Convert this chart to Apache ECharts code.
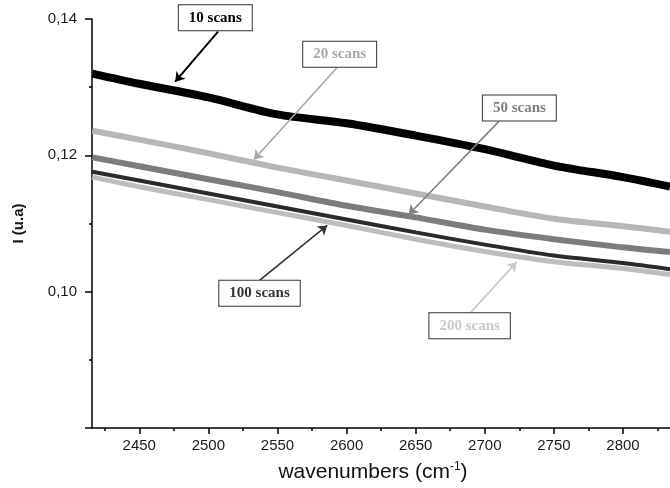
<!DOCTYPE html>
<html>
<head>
<meta charset="utf-8">
<script src="https://cdn.jsdelivr.net/npm/echarts@6/dist/echarts.min.js"></script>
<style>
  html,body{margin:0;padding:0;background:#fff;}
  #main{width:670px;height:488px;}
</style>
</head>
<body>
<div id="main"></div>
<script>
var wavenumbers = [2416, 2450, 2500, 2550, 2600, 2650, 2700, 2750, 2800, 2834];
var scans10  = [0.1320, 0.1305, 0.1285, 0.1260, 0.1247, 0.1229, 0.1209, 0.1185, 0.1168, 0.1154];
var scans20  = [0.1236, 0.1223, 0.1203, 0.1182, 0.1163, 0.1144, 0.1125, 0.1107, 0.1096, 0.1088];
var scans50  = [0.1197, 0.1184, 0.1165, 0.1146, 0.1126, 0.1109, 0.1091, 0.1077, 0.1065, 0.1058];
var scans100 = [0.1176, 0.1163, 0.1144, 0.1125, 0.1106, 0.1087, 0.1069, 0.1053, 0.1042, 0.1033];
var scans200 = [0.1168, 0.1154, 0.1135, 0.1116, 0.1097, 0.1077, 0.1059, 0.1044, 0.1034, 0.1025];

var xLabels = [2450, 2500, 2550, 2600, 2650, 2700, 2750, 2800];
var xMinor  = [2425, 2475, 2525, 2575, 2625, 2675, 2725, 2775, 2825];

// annotation boxes and arrows, in data units
var noteNames = ['10 scans', '20 scans', '50 scans', '100 scans', '200 scans'];
var noteBox   = [[2505, 0.14019], [2595, 0.13484], [2725, 0.12693], [2537, 0.09975], [2689, 0.09499]];
var noteFrom  = [[2507, 0.13814], [2593, 0.13286], [2710, 0.12495], [2537, 0.10166], [2690, 0.09700]];
var noteTo    = [[2476, 0.13081], [2533, 0.11938], [2645, 0.11133], [2586, 0.10971], [2723, 0.10433]];
var noteText  = ['#000000', '#a8a8a8', '#808080', '#333333', '#c8c8c8'];

var lineColors = ['#000000', '#b6b6b6', '#7c7c7c', '#2b2b2b', '#bdbdbd'];
var lineWidths = [8, 6, 6, 4, 5];
var seriesData = [scans10, scans20, scans50, scans100, scans200];

function pairs(ys){
  var out = [];
  for(var i=0;i<wavenumbers.length;i++){
    out.push([wavenumbers[i], ys[i]]);
  }
  return out;
}

var chart = echarts.init(document.getElementById('main'));

var series = [];
// 200 scans goes before 100 scans so the dark curve sits on top
var order = [0, 1, 2, 4, 3];
order.forEach(function (k){
  series.push({
    name: noteNames[k],
    type: 'line',
    data: pairs(seriesData[k]),
    smooth: 0.3,
    showSymbol: false,
    lineStyle: {color: lineColors[k], width: lineWidths[k]},
    markLine: {
      silent: true,
      symbol: ['none', 'arrow'],
      symbolSize: 9,
      label: {show: false},
      lineStyle: {color: k == 0 ? '#000' : noteText[k], width: k == 0 ? 2 : 1.6, type: 'solid'},
      data: [[{coord: noteFrom[k]}, {coord: noteTo[k]}]]
    }
  });
});

var option = {
  animation: false,
  grid: {left: 92, right: 0, top: 19, bottom: 60},
  xAxis: [{
    type: 'value',
    min: 2415.8,
    max: 2834,
    name: '{a|wavenumbers (cm}{s|-1}{a|)}',
    nameLocation: 'middle',
    nameGap: 33,
    nameTextStyle: {
      padding: [0, 16, 0, 0],
      rich: {
        a: {fontFamily: 'Liberation Sans', fontSize: 21, color: '#111'},
        s: {fontFamily: 'Liberation Sans', fontSize: 12, color: '#111', verticalAlign: 'top', padding: [0, 0, 10, 0]}
      }
    },
    splitLine: {show: false},
    axisLine: {lineStyle: {color: '#000', width: 1.5}},
    axisTick: {customValues: xLabels, length: 6, lineStyle: {color: '#000', width: 1.5}},
    axisLabel: {
      customValues: xLabels,
      margin: 10,
      fontFamily: 'Liberation Sans',
      fontSize: 15,
      color: '#1a1a1a',
      formatter: function (v){ return String(v); }
    }
  }, {
    type: 'value',
    min: 2415.8,
    max: 2834,
    position: 'bottom',
    axisLine: {show: false},
    splitLine: {show: false},
    axisTick: {customValues: xMinor, length: 3, lineStyle: {color: '#000', width: 1.5}},
    axisLabel: {show: false}
  }],
  yAxis: {
    type: 'value',
    min: 0.08,
    max: 0.14,
    interval: 0.02,
    name: 'I (u.a)',
    nameLocation: 'middle',
    nameGap: 66,
    nameTextStyle: {fontFamily: 'Liberation Sans', fontSize: 15, fontWeight: 'bold', color: '#111'},
    splitLine: {show: false},
    axisLine: {show: true, lineStyle: {color: '#000', width: 1.5}},
    axisTick: {show: true, length: 7, lineStyle: {color: '#000', width: 1.5}},
    minorTick: {show: true, splitNumber: 2, length: 3, lineStyle: {color: '#000', width: 1.5}},
    axisLabel: {
      showMinLabel: false,
      margin: 15,
      fontFamily: 'Liberation Sans',
      fontSize: 15,
      color: '#1a1a1a',
      formatter: function (v){
        if(v < 0.09){ return ''; }
        return v.toFixed(2).replace('.', ',');
      }
    }
  },
  series: series
};
chart.setOption(option);

/*label boxes placed from data units*/
var graphics = [];
for(var i=0;i<noteNames.length;i++){
  var p = chart.convertToPixel({gridIndex: 0}, noteBox[i]);
  graphics.push({
    type: 'text',
    x: p[0],
    y: p[1],
    z: 100,
    style: {
      text: noteNames[i],
      font: 'bold 15px "Liberation Serif"',
      fill: noteText[i],
      align: 'center',
      verticalAlign: 'middle',
      backgroundColor: '#fff',
      borderColor: '#333',
      borderWidth: 1,
      padding: [5, 10, 5, 10]
    }
  });
}
chart.setOption({graphic: graphics});
</script>
</body>
</html>
